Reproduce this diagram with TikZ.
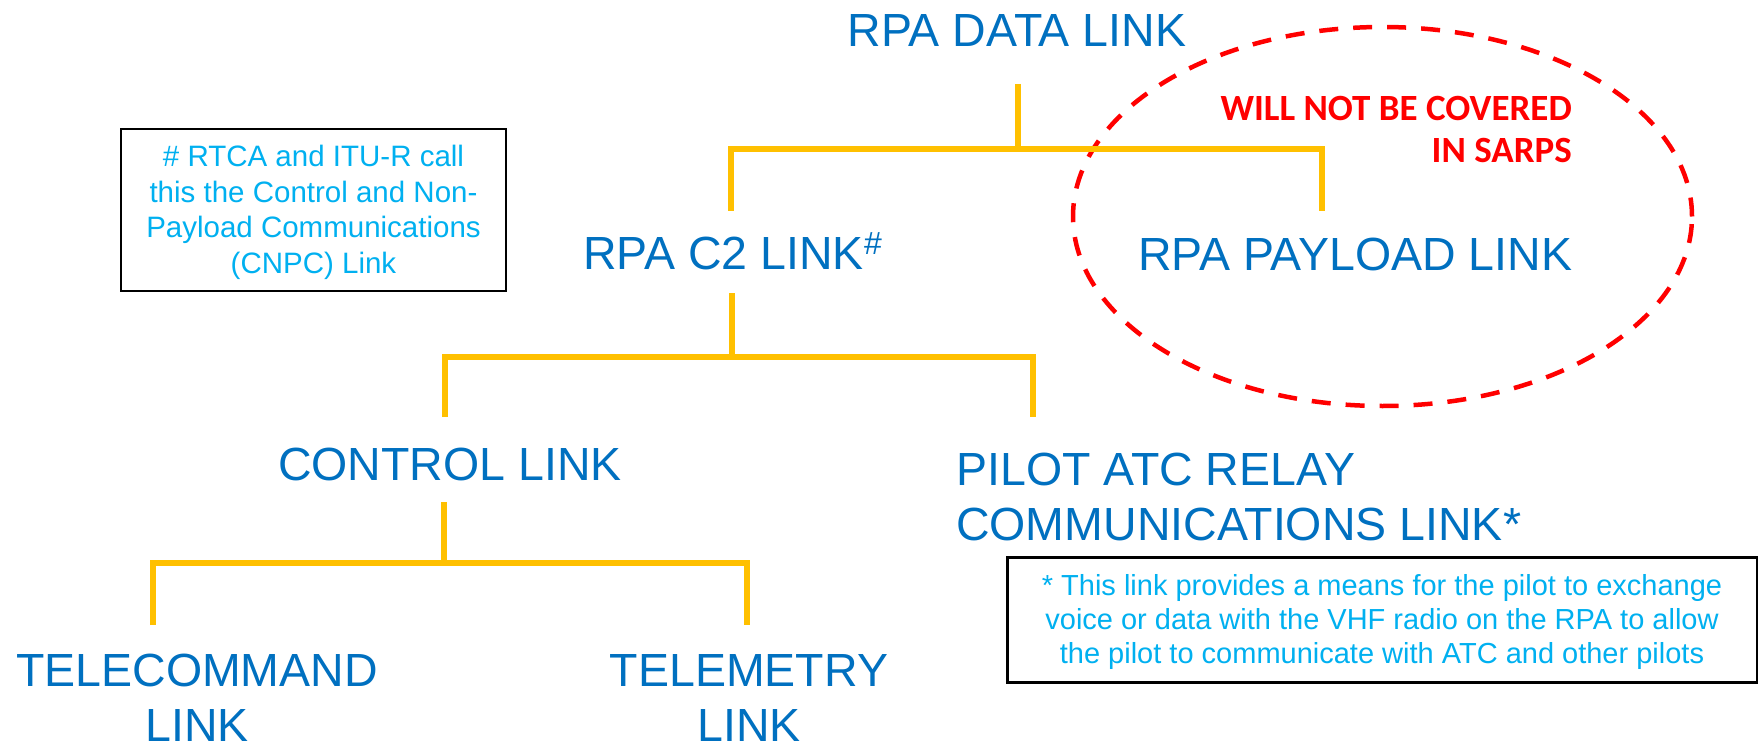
\documentclass[tikz,border=0pt]{standalone}
\usepackage{fontspec}
\setmainfont{Liberation Sans}
\newfontfamily\calibfont{Carlito}
\definecolor{linkblue}{HTML}{0070C0}
\definecolor{noteblue}{HTML}{00B0F0}
\definecolor{treeyellow}{HTML}{FFC000}
\definecolor{warnred}{HTML}{FF0000}
\begin{document}
\begin{tikzpicture}[x=1pt,y=-1pt,
  bigtext/.style={text=linkblue, font=\fontsize{46.5}{55}\selectfont, inner sep=0pt},
  notebox/.style={draw=black, line width=2pt, inner sep=0pt},
  notetext/.style={text=noteblue, align=center, inner sep=0pt},
  branch/.style={draw=treeyellow, line width=5.5pt},
  warntext/.style={text=warnred, font=\calibfont\bfseries\fontsize{37}{42}\selectfont, align=right, inner sep=0pt},
  ringstyle/.style={draw=warnred, line width=4.5pt, dash pattern=on 19pt off 15pt}]
\useasboundingbox (0,0) rectangle (1758,746);
\fill[white] (0,0) rectangle (1758,746);

% text nodes (multi-line nodes are anchored at the baseline of their last line)
\node[bigtext, anchor=base] (data) at (1017,47) {RPA DATA LINK};
\node[bigtext, anchor=base west] (c2) at (583,269) {RPA C2 LINK\raisebox{15pt}{\fontsize{32}{32}\selectfont\#}};
\node[bigtext, anchor=base west] (payload) at (1138,270) {RPA PAYLOAD LINK};
\node[bigtext, anchor=base] (control) at (450,480) {CONTROL LINK};
\node[bigtext, anchor=base west, align=left] (pilot) at (956,540) {PILOT ATC RELAY\\COMMUNICATIONS LINK*};
\node[bigtext, anchor=base, align=center] (telecmd) at (197,741) {TELECOMMAND\\LINK};
\node[bigtext, anchor=base, align=center] (telemetry) at (749,741) {TELEMETRY\\LINK};

% notes
\node[notebox, minimum width=385pt, minimum height=162pt] (cnpc) at (313.5,210) {};
\node[notetext, anchor=base, font=\fontsize{29.5}{35.5}\selectfont] (cnpctext) at (cnpc.center |- 0,273)
  {\# RTCA and ITU-R call\\this the Control and Non-\\Payload Communications\\(CNPC) Link};
\node[notebox, line width=3pt, minimum width=750pt, minimum height=125pt] (relaynote) at (1382,619.5) {};
\node[notetext, anchor=base, font=\fontsize{29}{34}\selectfont] (relaytext) at (relaynote.center |- 0,663)
  {* This link provides a means for the pilot to exchange\\voice or data with the VHF radio on the RPA to allow\\the pilot to communicate with ATC and other pilots};

% red ring and warning
\draw[ringstyle] (1382.5,216.5) ellipse [x radius=309.5pt, y radius=189.5pt];
\node[warntext, anchor=base east] (warn) at (1572,163) {WILL NOT BE COVERED\\IN SARPS};

% tree connector points
\coordinate (s0) at (1018,84);
\coordinate (j0) at (1018,149);
\coordinate (c2in) at (731,211);
\coordinate (plin) at (1322,211);
\coordinate (s1) at (732,293);
\coordinate (j1) at (732,357);
\coordinate (ctin) at (445,417);
\coordinate (pilin) at (1033,417);
\coordinate (s2) at (444,502);
\coordinate (j2) at (444,563);
\coordinate (tcin) at (153,625);
\coordinate (tmin) at (747,625);

\draw[branch] (s0) -- (j0);
\draw[branch] (c2in) |- (j0) -| (plin);
\draw[branch] (s1) -- (j1);
\draw[branch] (ctin) |- (j1) -| (pilin);
\draw[branch] (s2) -- (j2);
\draw[branch] (tcin) |- (j2) -| (tmin);
\end{tikzpicture}
\end{document}
